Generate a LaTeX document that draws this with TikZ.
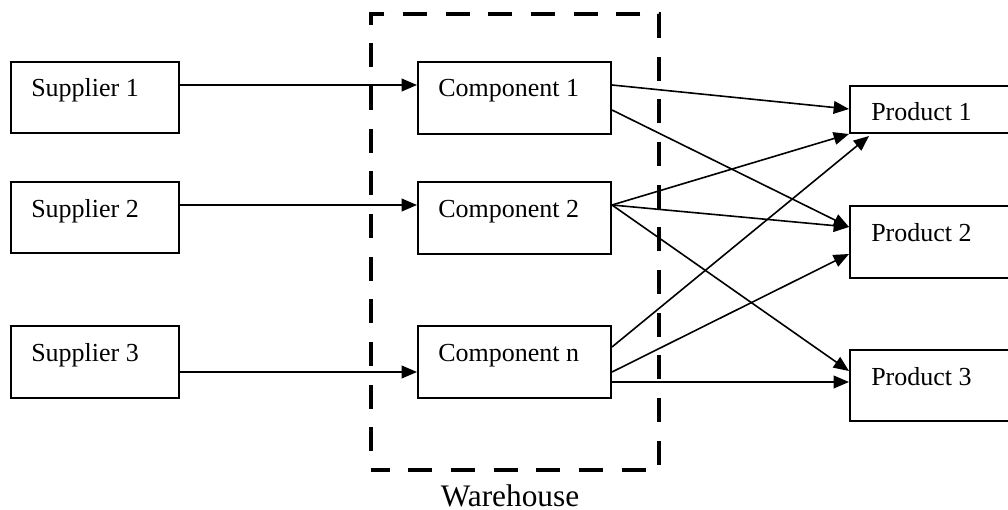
\documentclass[tikz,border=0pt]{standalone}
\usepackage{fontspec}
\setmainfont{Liberation Serif}
\usetikzlibrary{arrows.meta,calc}

\tikzset{
  box/.style={draw=black, line width=1.5pt, inner sep=0pt, fill=none},
  lbl/.style={anchor=base west, inner sep=0pt, font=\fontsize{19.5}{22}\selectfont},
  arr/.style={line width=1.2pt, -{Triangle[length=11.5pt,width=9.5pt]}},
  whbox/.style={draw=black, line width=3.6pt, dash pattern=on 18pt off 14pt, dash phase=4pt, inner sep=0pt},
}

\begin{document}
\begin{tikzpicture}[x=0.75pt, y=-0.75pt]
  \useasboundingbox (0,0) rectangle (1008,510);
  \fill[white] (0,0) rectangle (1008,510);
  \clip (0,0) rectangle (1008,510);

  % warehouse frame
  \node[whbox, minimum width=288*0.75pt, minimum height=456*0.75pt] (wh) at (515,242) {};
  \node[anchor=base, inner sep=0pt, font=\fontsize{23.5}{26}\selectfont] (whl) at ($(wh.south)+(-5,34)$) {Warehouse};

  % suppliers
  \node[box, minimum width=168*0.75pt, minimum height=71*0.75pt] (s1) at (95,97.5) {};
  \node[box, minimum width=168*0.75pt, minimum height=71*0.75pt] (s2) at (95,217.5) {};
  \node[box, minimum width=168*0.75pt, minimum height=72*0.75pt] (s3) at (95,362) {};
  \node[lbl] (s1t) at ($(s1.north west)+(21,36)$) {Supplier 1};
  \node[lbl] (s2t) at ($(s2.north west)+(21,36)$) {Supplier 2};
  \node[lbl] (s3t) at ($(s3.north west)+(21,36)$) {Supplier 3};

  % components
  \node[box, minimum width=193*0.75pt, minimum height=72*0.75pt] (c1) at (514.5,98) {};
  \node[box, minimum width=193*0.75pt, minimum height=72*0.75pt] (c2) at (514.5,218) {};
  \node[box, minimum width=193*0.75pt, minimum height=72*0.75pt] (c3) at (514.5,362) {};
  \node[lbl] (c1t) at ($(c1.north west)+(21,36)$) {Component 1};
  \node[lbl] (c2t) at ($(c2.north west)+(21,36)$) {Component 2};
  \node[lbl] (c3t) at ($(c3.north west)+(21,36)$) {Component n};

  % products (running past the right edge)
  \node[box, minimum width=200*0.75pt, minimum height=47*0.75pt] (p1) at (950,109.5) {};
  \node[box, minimum width=200*0.75pt, minimum height=72*0.75pt] (p2) at (950,242) {};
  \node[box, minimum width=200*0.75pt, minimum height=71*0.75pt] (p3) at (950,385.5) {};
  \node[lbl] (p1t) at ($(p1.north west)+(22,36)$) {Product 1};
  \node[lbl] (p2t) at ($(p2.north west)+(22,36)$) {Product 2};
  \node[lbl] (p3t) at ($(p3.north west)+(22,36)$) {Product 3};

  % supplier -> component
  \draw[arr] ($(s1.north east)+(0,24)$) -- ($(c1.north west)+(0,24)$);
  \draw[arr] ($(s2.north east)+(0,24)$) -- ($(c2.north west)+(0,24)$);
  \draw[arr] ($(s3.north east)+(0,47)$) -- ($(c3.north west)+(0,47)$);

  % component -> product
  \draw[arr] ($(c1.north east)+(0,24)$) -- ($(p1.north west)+(0,24)$);
  \draw[arr] ($(c1.north east)+(0,49)$) -- ($(p2.north west)+(0,22)$);
  \draw[arr] ($(c2.north east)+(0,24)$) -- (p1.south west);
  \draw[arr] ($(c2.north east)+(0,24)$) -- ($(p2.north west)+(0,22)$);
  \draw[arr] ($(c2.north east)+(0,24)$) -- ($(p3.north west)+(0,22)$);
  \draw[arr] ($(c3.north east)+(0,22)$) -- ($(p1.south west)+(20,2)$);
  \draw[arr] ($(c3.north east)+(0,47)$) -- ($(p2.north west)+(0,49)$);
  \draw[arr] ($(c3.north east)+(0,57)$) -- ($(p3.north west)+(0,33)$);
\end{tikzpicture}
\end{document}
